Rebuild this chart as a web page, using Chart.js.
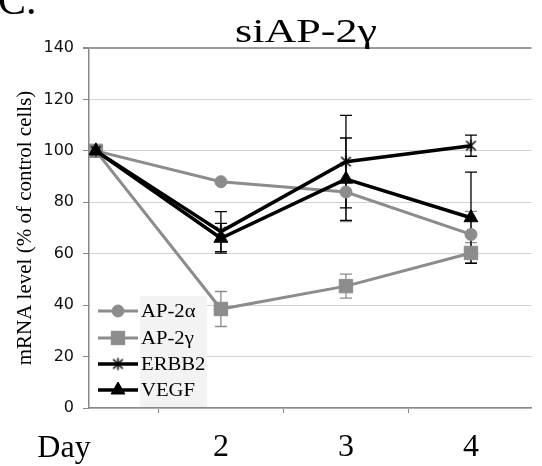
<!DOCTYPE html>
<html>
<head>
<meta charset="utf-8">
<script src="https://cdn.jsdelivr.net/npm/chart.js@4.4.1/dist/chart.umd.min.js"></script>
<style>
    html, body { margin: 0; padding: 0; background: #fff; }
    #wrap { width: 542px; height: 466px; }
</style>
</head>
<body>
<div id="wrap"><canvas id="chart" width="542" height="466"></canvas></div>
<script>
// -- Data --
const days = [1, 2, 3, 4];
const dayLabels = ['Day', '2', '3', '4'];
const seriesNames = ['AP-2α', 'AP-2γ', 'ERBB2', 'VEGF'];
const ap2aValues = [100, 88, 84, 67.5];
const ap2gValues = [100, 38.5, 47.4, 60.3];
const erbb2Values = [100, 68.6, 95.8, 102];
const vegfValues = [100, 66, 89, 74];
const ap2aErrors = [0, 0, 11.5, 9];
const ap2gErrors = [0, 6.8, 4.7, 4];
const erbb2Errors = [0, 7.8, 18, 4.1];
const vegfErrors = [0, 5.8, 16, 17.7];
const yTicks = [0, 20, 40, 60, 80, 100, 120, 140];
const xTickMarks = [1.5, 2.5, 3.5];

const GRAY = '#8c8c8c';
const BLACK = '#000000';
const SERIF = '"Liberation Serif", "Times New Roman", serif';

// asterisk marker (x with a vertical bar)
function makeStar(size, color, lw) {
    const c = document.createElement('canvas');
    c.width = size; c.height = size;
    const g = c.getContext('2d');
    const m = size / 2, r = size / 2 - 1.5;
    g.strokeStyle = color;
    g.lineWidth = lw;
    g.beginPath();
    g.moveTo(m - r * 0.8, m - r * 0.8); g.lineTo(m + r * 0.8, m + r * 0.8);
    g.moveTo(m + r * 0.8, m - r * 0.8); g.lineTo(m - r * 0.8, m + r * 0.8);
    g.moveTo(m, m - r); g.lineTo(m, m + r);
    g.stroke();
    return c;
}
const starMarker = makeStar(15, BLACK, 1.5);

function toPoints(values) {
    return days.map((d, i) => ({ x: d, y: values[i] }));
}

const datasets = [
    { label: seriesNames[0], data: toPoints(ap2aValues), errors: ap2aErrors, borderColor: GRAY, backgroundColor: GRAY,
      pointStyle: 'circle', pointRadius: 6, borderWidth: 3, order: 3 },
    { label: seriesNames[1], data: toPoints(ap2gValues), errors: ap2gErrors, borderColor: GRAY, backgroundColor: GRAY,
      pointStyle: 'rect', pointRadius: 9.5, borderWidth: 3, order: 2 },
    { label: seriesNames[2], data: toPoints(erbb2Values), errors: erbb2Errors, borderColor: BLACK, backgroundColor: BLACK,
      pointStyle: starMarker, pointRadius: 7, borderWidth: 3.5, order: 1 },
    { label: seriesNames[3], data: toPoints(vegfValues), errors: vegfErrors, borderColor: BLACK, backgroundColor: BLACK,
      pointStyle: 'triangle', pointRadius: 8, borderWidth: 3.5, order: 0 }
];
datasets.forEach(ds => {
    ds.pointBorderWidth = 1;
    ds.pointBackgroundColor = ds.backgroundColor;
    ds.pointBorderColor = ds.borderColor;
    ds.tension = 0;
    ds.fill = false;
});

// -- Plugins --
const errorBars = {
    id: 'errorBars',
    beforeDatasetsDraw(chart) {
        const { ctx, scales: { x, y } } = chart;
        chart.data.datasets.forEach(ds => {
            ds.errors.forEach((e, j) => {
                if (!e) return;
                const p = ds.data[j];
                const px = x.getPixelForValue(p.x);
                const top = y.getPixelForValue(p.y + e);
                const bot = y.getPixelForValue(p.y - e);
                ctx.save();
                ctx.strokeStyle = ds.borderColor;
                ctx.lineWidth = 1.3;
                ctx.beginPath();
                ctx.moveTo(px, top); ctx.lineTo(px, bot);
                ctx.moveTo(px - 6, top); ctx.lineTo(px + 6, top);
                ctx.moveTo(px - 6, bot); ctx.lineTo(px + 6, bot);
                ctx.stroke();
                ctx.restore();
            });
        });
    }
};

function stretchedText(ctx, text, x, y, sx, align) {
    ctx.save();
    ctx.translate(x, y);
    ctx.scale(sx, 1);
    ctx.textAlign = align || 'left';
    ctx.fillText(text, 0, 0);
    ctx.restore();
}

const extras = {
    id: 'extras',
    afterDraw(chart) {
        const { ctx } = chart;
        ctx.save();
        ctx.fillStyle = '#000';
        ctx.textBaseline = 'alphabetic';

        // panel letter and title
        ctx.font = '42px ' + SERIF;
        ctx.fillText('C.', -2, 14);
        ctx.font = '34px ' + SERIF;
        const tw = ctx.measureText('siAP-2γ').width;
        stretchedText(ctx, 'siAP-2γ', 306, 42, 142 / tw, 'center');

        // first category label sits left of the axis
        ctx.font = '32px ' + SERIF;
        ctx.textAlign = 'center';
        ctx.fillText(dayLabels[0], 64, 457);

        // legend
        ctx.fillStyle = '#ffffff';
        ctx.fillRect(91, 296, 116, 111);
        ctx.fillStyle = '#f3f3f3';
        ctx.fillRect(140, 296, 67, 111);
        const rows = [311, 338, 364, 390];
        chart.data.datasets.forEach((ds, i) => {
            const yy = rows[i];
            ctx.strokeStyle = ds.borderColor;
            ctx.lineWidth = ds.borderWidth;
            ctx.beginPath();
            ctx.moveTo(98, yy); ctx.lineTo(138, yy);
            ctx.stroke();
            ctx.fillStyle = ds.backgroundColor;
            ctx.lineWidth = 1;
            Chart.helpers.drawPoint(ctx, { pointStyle: ds.pointStyle, radius: ds.pointRadius, borderWidth: 1, rotation: 0 }, 118, yy);
            ctx.fillStyle = '#000';
            ctx.font = '18px ' + SERIF;
            ctx.textBaseline = 'middle';
            stretchedText(ctx, ds.label, 141, yy + 1, 1.15, 'left');
        });
        ctx.restore();
    }
};

// -- Chart --
new Chart(document.getElementById('chart'), {
    type: 'line',
    data: { datasets },
    options: {
        responsive: false,
        animation: false,
        devicePixelRatio: 1,
        layout: { padding: { top: 48, left: 0, right: 0, bottom: 0 } },
        plugins: { legend: { display: false }, tooltip: { enabled: false }, title: { display: false } },
        scales: {
            x: {
                type: 'linear',
                min: 0.945,
                max: 4.484,
                afterFit: s => { s.height = 58; },
                afterBuildTicks: s => {
                    s.ticks = xTickMarks.concat(days.slice(1)).sort((a, b) => a - b).map(v => ({ value: v }));
                },
                ticks: {
                    autoSkip: false,
                    maxRotation: 0,
                    padding: 15,
                    color: '#000',
                    font: { family: SERIF, size: 32 },
                    callback: v => {
                        const i = days.indexOf(v);
                        return i > 0 ? dayLabels[i] : '';
                    }
                },
                grid: {
                    drawOnChartArea: false,
                    tickLength: 5,
                    tickColor: c => (days.includes(c.tick.value) ? 'rgba(0,0,0,0)' : '#888')
                },
                border: { color: '#888', width: 1.5 }
            },
            y: {
                min: 0,
                max: 140,
                afterFit: s => { s.width = 89; },
                afterBuildTicks: s => { s.ticks = yTicks.map(v => ({ value: v })); },
                ticks: {
                    padding: 9,
                    color: '#111',
                    font: { family: '"DejaVu Sans", Verdana, sans-serif', size: 16 }
                },
                grid: {
                    color: c => (c.tick.value === 140 ? '#999' : '#d2d2d2'),
                    lineWidth: c => (c.tick.value === 140 ? 2 : 1),
                    tickLength: 6,
                    tickColor: '#888'
                },
                border: { color: '#888', width: 1.5 },
                title: {
                    display: true,
                    text: 'mRNA level (% of control cells)',
                    color: '#000',
                    font: { family: SERIF, size: 21 },
                    padding: { top: 13, bottom: 0 }
                }
            }
        }
    },
    plugins: [errorBars, extras]
});
</script>
</body>
</html>
